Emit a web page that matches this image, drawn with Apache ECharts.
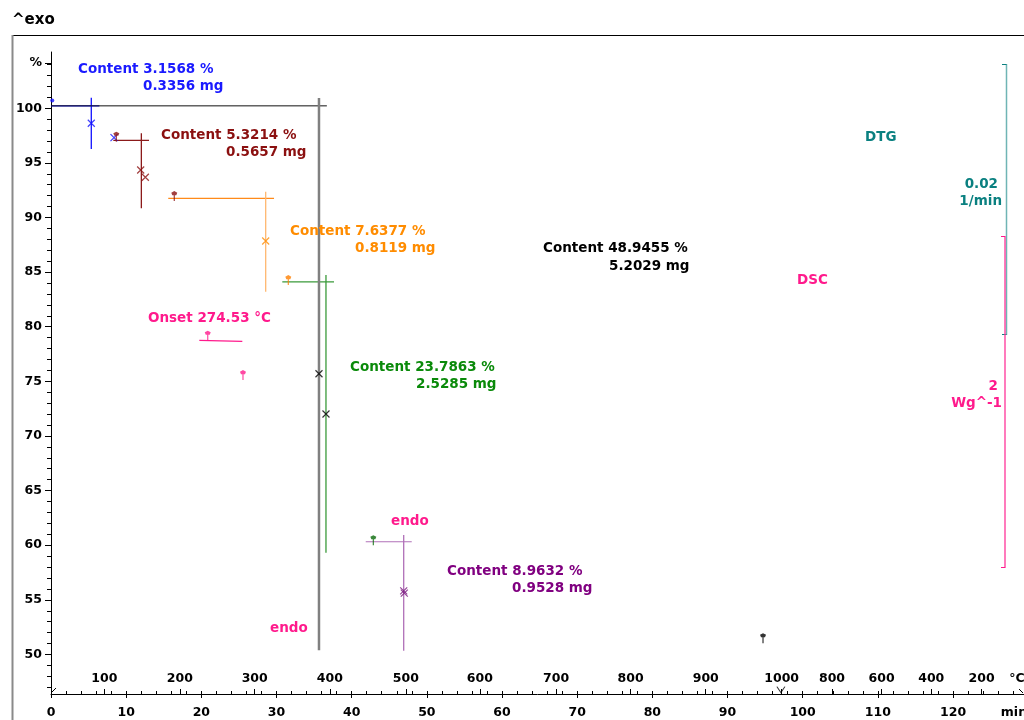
<!DOCTYPE html>
<html>
<head>
<meta charset="utf-8">
<title>TGA / DSC</title>
<script src="https://cdn.jsdelivr.net/npm/echarts@6/dist/echarts.min.js"></script>
<style>
  html, body { margin: 0; padding: 0; background: #ffffff; }
  #chart { width: 1024px; height: 720px; }
</style>
</head>
<body>
<div id="chart"></div>
<script>
// ---- axis ranges -------------------------------------------------------
const timeMax = 129.44;           // min
const pctMin = 46.38, pctMax = 105.15;

// ---- tick labels -------------------------------------------------------
const minuteLabels = [0, 10, 20, 30, 40, 50, 60, 70, 80, 90, 100, 110, 120];
const percentLabels = [50, 55, 60, 65, 70, 75, 80, 85, 90, 95, 100];
const percentUnitPos = 104.15;
// sample temperature (°C) read against time (min): heating, then cooling
const tempTickPos  = [7.09, 17.15, 27.1, 37.1, 47.2, 57.05, 67.2, 77.1, 87.1, 97.2, 103.9, 110.5, 117.1, 123.8];
const tempTickText = ['100', '200', '300', '400', '500', '600', '700', '800', '900', '1000', '800', '600', '400', '200'];

// ---- mass-loss steps (TGA) --------------------------------------------
const startLevel = 100.22;                               // % before first step
const stepContent = [3.1568, 5.3214, 7.6377, 23.7863, 8.9632];   // %
const stepMass    = ['0.3356', '0.5657', '0.8119', '2.5285', '0.9528']; // mg
const stepBaseStart = [0, 8.29, 15.6, 30.77, 41.87];    // min
const stepBaseEnd   = [6.43, 13.04, 29.67, 37.65, 47.99];
const stepMid       = [5.36, 12.02, 28.56, 36.58, 46.92];
const stepVTop      = [100.97, 97.71, 92.36, 84.73, 60.93];
const stepVBottom   = [96.27, 90.84, 83.21, 59.30, 50.33];
const stepCross = [
  [[5.36, 98.63]],
  [[11.93, 94.35], [12.55, 93.68]],
  [[28.56, 87.85]],
  [],
  [[46.92, 55.82], [47.0, 55.61]]
];

// overall step
const totalContent = 48.9455, totalMass = '5.2029';
const totalBaseEnd = 36.7;
const totalMid = 35.65, totalVTop = 100.94, totalVBottom = 50.39;
const totalCross = [[35.65, 75.70], [36.58, 72.01]];

// limit markers
const blueDot = [[0.17, 100.70]];
const blueLimit = [[8.38, 97.31]];
const flagsDarkRed = [[8.69, 97.40], [16.4, 91.97]];
const flagsOrange = [[31.57, 84.28]];
const flagsGreen = [[42.88, 60.46]];
const flagsBlack = [[94.72, 51.49]];
const flagsPink = [[20.85, 79.18], [25.54, 75.58]];

// DSC onset
const onsetTemp = 274.53;
const onsetLine = [[19.73, 78.75], [25.45, 78.66]];

// ---- styling ---------------------------------------------------------
const FONT = 'DejaVu Sans';
const stepLineColor  = ['#1010ff', '#8b1a1a', '#ff8a1a', '#3a9a3a', '#b070b8'];
const stepVertColor  = ['#1010ff', '#8b1a1a', '#ffb870', '#3a9a3a', '#b070b8'];
const stepCrossColor = ['#1010ff', '#8b1010', '#ff8c00', '#0a8a0a', '#7a1a80'];
const stepTextColor  = ['#1a1aff', '#8b1010', '#ff8c00', '#0a8a0a', '#800080'];
const PINK = '#ff1a8c', TEAL = '#0a8080';

const CROSS = 'path://M0,0L10,10M10,0L0,10';
const FLAG = 'path://M3,0L6,2L5,5L3.6,5L3.6,12L2.4,12L2.4,5L1,5L0,2Z';

function segment(points, color, width) {
  return {
    type: 'line', data: points, symbol: 'none', silent: true,
    xAxisIndex: 0, yAxisIndex: 0,
    lineStyle: { color: color, width: width || 1 }, z: 3
  };
}
function crosses(points, color) {
  return {
    type: 'scatter', data: points, symbol: CROSS, symbolSize: 7, silent: true,
    itemStyle: { color: 'none', borderColor: color, borderWidth: 1.2 }, z: 5
  };
}
function flags(points, color) {
  return {
    type: 'scatter', data: points, symbol: FLAG, symbolSize: [6, 10], silent: true,
    itemStyle: { color: color }, z: 6
  };
}

const series = [];
let level = startLevel;
for (let i = 0; i < stepContent.length; i++) {
  series.push(segment([[stepBaseStart[i], level], [stepBaseEnd[i], level]], stepLineColor[i], 1.2));
  series.push(segment([[stepMid[i], stepVTop[i]], [stepMid[i], stepVBottom[i]]], stepVertColor[i], 1.3));
  series.push(crosses(stepCross[i], stepCrossColor[i]));
  level -= stepContent[i];
}

// overall step
series.push(segment([[0, startLevel], [totalBaseEnd, startLevel]], '#111111', 1));
series.push(segment([[totalMid, totalVTop], [totalMid, totalVBottom]], '#808080', 2.5));
series.push(crosses(totalCross, '#000000'));

series.push({
  type: 'scatter', data: blueDot, symbol: 'circle', symbolSize: 4, silent: true,
  itemStyle: { color: '#1010ff' }, z: 6
});
series.push(crosses(blueLimit, '#1010ff'));
series.push(flags(flagsDarkRed, '#8b1010'));
series.push(flags(flagsOrange, '#ff8000'));
series.push(flags(flagsGreen, '#0a6a0a'));
series.push(flags(flagsBlack, '#000000'));
series.push(flags(flagsPink, PINK));
series.push(segment(onsetLine, PINK, 1.2));

// 1000 °C turning point marker on the time axis
series.push({
  type: 'scatter', data: [[97.1, 46.78]], symbol: 'path://M0,0L5,8L10,0', symbolSize: [8, 6],
  silent: true, clip: false, itemStyle: { color: 'none', borderColor: '#000', borderWidth: 1 }, z: 6
});

// ---- annotation texts -------------------------------------------------
const bold = (size) => 'bold ' + size + 'px "' + FONT + '"';
const textAt = (x, y, str, color, align) => ({
  type: 'text', silent: true, z: 50,
  style: { x: x, y: y, text: str, fill: color, font: bold(13.5),
           textAlign: align || 'left', textVerticalAlign: 'middle' }
});

const stepTextPos = [[78, 69], [161, 135], [290, 231], [350, 367], [447, 571]];
const stepNumOffset = [65, 65, 65, 66, 65];
const graphics = [];
for (let i = 0; i < stepContent.length; i++) {
  const [x, y] = stepTextPos[i];
  graphics.push(textAt(x, y, 'Content ' + stepContent[i].toFixed(4) + ' %', stepTextColor[i]));
  graphics.push(textAt(x + stepNumOffset[i], y + 17, stepMass[i] + ' mg', stepTextColor[i]));
}
graphics.push(textAt(543, 248, 'Content ' + totalContent.toFixed(4) + ' %', '#000000'));
graphics.push(textAt(609, 266, totalMass + ' mg', '#000000'));
graphics.push(textAt(148, 318, 'Onset ' + onsetTemp.toFixed(2) + ' °C', PINK));
graphics.push(textAt(270, 628, 'endo', PINK));
graphics.push(textAt(391, 521, 'endo', PINK));
graphics.push(textAt(865, 137, 'DTG', TEAL));
graphics.push(textAt(998, 184, '0.02', TEAL, 'right'));
graphics.push(textAt(1002, 201, '1/min', TEAL, 'right'));
graphics.push(textAt(797, 280, 'DSC', PINK));
graphics.push(textAt(998, 386, '2', PINK, 'right'));
graphics.push(textAt(1002, 403, 'Wg^-1', PINK, 'right'));
graphics.push({
  type: 'text', silent: true,
  style: { x: 12, y: 20, text: '^exo', fill: '#000', font: bold(15), textVerticalAlign: 'middle' }
});

// frame and curve scale bars
const gLine = (x1, y1, x2, y2, color, w) => ({
  type: 'line', silent: true, z: 40,
  shape: { x1: x1, y1: y1, x2: x2, y2: y2 },
  style: { stroke: color, lineWidth: w || 1 }
});
graphics.push(gLine(12, 35.5, 1024, 35.5, '#000000', 1.2));
graphics.push(gLine(12.5, 35, 12.5, 720, '#8a8a8a', 2));
// DTG scale
graphics.push(gLine(1006.5, 64, 1006.5, 335, '#6fb5b5', 1.5));
graphics.push(gLine(1002, 64.5, 1006.5, 64.5, '#0a8080', 1));
graphics.push(gLine(1002, 334.5, 1006.5, 334.5, '#0a8080', 1));
// DSC scale
graphics.push(gLine(1005, 236, 1005, 568, '#ff3399', 1.3));
graphics.push(gLine(1001, 236.5, 1005, 236.5, PINK, 1));
graphics.push(gLine(1001, 567.5, 1005, 567.5, PINK, 1));
// axis break marks
graphics.push(gLine(51, 693, 56, 688, '#000', 1));
graphics.push(gLine(1019, 689, 1023, 693, '#000', 1));

// ---- axes --------------------------------------------------------------
const minorMinutes = [];
for (let m = 2; m < timeMax; m += 2) minorMinutes.push(m);
const minorPercent = [];
for (let p = 47; p <= 104; p += 1) minorPercent.push(p);

const labelStyle = { color: '#000', fontFamily: FONT, fontWeight: 'bold', fontSize: 12.5 };

const chart = echarts.init(document.getElementById('chart'), null, { renderer: 'canvas' });
chart.setOption({
  animation: false,
  backgroundColor: '#ffffff',
  grid: { left: 51, right: 0, top: 52, bottom: 26, containLabel: false, outerBoundsMode: 'none' },
  xAxis: [
    {
      type: 'value', min: 0, max: timeMax, interval: 10,
      axisLine: { show: true, lineStyle: { color: '#000', width: 1 } },
      axisTick: { show: true, inside: false, length: 4, lineStyle: { color: '#000' },
                  customValues: minuteLabels },
      axisLabel: Object.assign({ margin: 12, customValues: minuteLabels.concat([128.1]),
                  formatter: (v) => (v > 125 ? 'min' : String(v)) }, labelStyle),
      splitLine: { show: false }
    },
    {
      type: 'value', min: 0, max: timeMax, position: 'bottom',
      axisLine: { show: false },
      axisTick: { show: true, inside: true, length: 3, lineStyle: { color: '#000' },
                  customValues: minorMinutes },
      axisLabel: { show: false },
      splitLine: { show: false }
    },
    {
      type: 'value', min: 0, max: timeMax, position: 'bottom',
      axisLine: { show: false },
      axisTick: { show: true, inside: true, length: 5, lineStyle: { color: '#000' },
                  customValues: tempTickPos },
      axisLabel: Object.assign({ inside: true, margin: 9, customValues: tempTickPos.concat([128.5]),
                  formatter: (v) => {
                    const k = tempTickPos.indexOf(v);
                    return k >= 0 ? tempTickText[k] : '°C';
                  } }, labelStyle),
      splitLine: { show: false }
    }
  ],
  yAxis: [
    {
      type: 'value', min: pctMin, max: pctMax, position: 'left',
      axisLine: { show: true, lineStyle: { color: '#000', width: 1 } },
      axisTick: { show: true, length: 6, lineStyle: { color: '#000' },
                  customValues: percentLabels.concat([percentUnitPos]) },
      axisLabel: Object.assign({ margin: 9, customValues: percentLabels.concat([percentUnitPos]),
                  formatter: (v) => (v > 103 ? '%' : String(v)) }, labelStyle),
      splitLine: { show: false }
    },
    {
      type: 'value', min: pctMin, max: pctMax, position: 'left',
      axisLine: { show: false },
      axisTick: { show: true, length: 4, lineStyle: { color: '#000' }, customValues: minorPercent },
      axisLabel: { show: false },
      splitLine: { show: false }
    }
  ],
  graphic: { elements: graphics },
  series: series
});
</script>
</body>
</html>
